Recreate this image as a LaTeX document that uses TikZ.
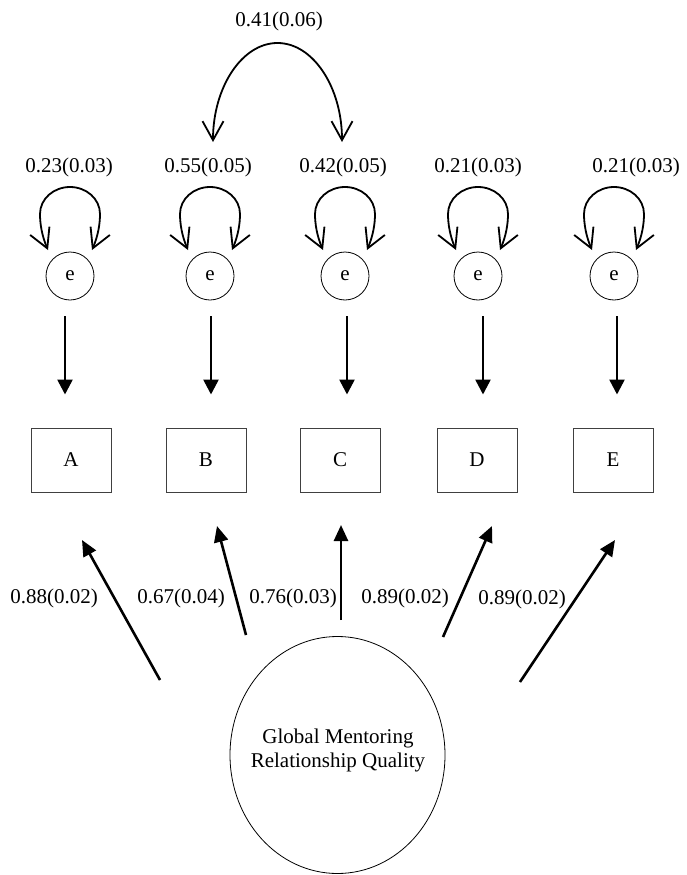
\documentclass[tikz,border=0pt]{standalone}
\usepackage{fontspec}
\setmainfont{Liberation Serif}
\usetikzlibrary{arrows.meta,shapes.geometric}

\begin{document}
\begin{tikzpicture}[x=1pt,y=-1pt,
  every node/.style={font=\fontsize{21}{24}\selectfont},
  obs/.style={draw=black!75,line width=1pt,minimum width=80pt,minimum height=64pt,inner sep=0pt},
  err/.style={draw,circle,line width=0.8pt,minimum size=48pt,inner sep=0pt},
  latent/.style={draw,ellipse,line width=0.8pt,minimum width=215pt,minimum height=237pt,inner sep=0pt},
  est/.style={inner sep=1pt},
  loadarrow/.style={line width=2.6pt,-{Triangle[length=16pt,width=14pt]}},
  resarrow/.style={line width=2.6pt,-{Triangle[length=15pt,width=15pt]}},
  varloop/.style={line width=1.8pt,{Straight Barb[length=19pt,width=21pt]}-{Straight Barb[length=19pt,width=21pt]}},
]
\useasboundingbox (0,0) rectangle (686,875);

% observed indicators
\node[obs] (A) at (71,460) {A};
\node[obs] (B) at (206,460) {B};
\node[obs] (C) at (340,460) {C};
\node[obs] (D) at (477,460) {D};
\node[obs] (E) at (613,460) {E};

% residual terms
\node[err] (eA) at (70,276) {e};
\node[err] (eB) at (210,276) {e};
\node[err] (eC) at (345,276) {e};
\node[err] (eD) at (478,276) {e};
\node[err] (eE) at (614,276) {e};

% latent factor
\node[latent] (G) at (337.5,755) {};
\node[align=center] (Gtext) at (338,750) {Global Mentoring\\Relationship Quality};

% residual variances
\foreach \e in {eA,eB,eC,eD,eE}{
  \draw[varloop,shift={(\e.center)}] (-22,-26) .. controls (-28,-40) and (-30,-52) .. (-30,-62)
    .. controls (-30,-77) and (-16.5,-89) .. (0,-89)
    .. controls (16.5,-89) and (30,-77) .. (30,-62)
    .. controls (30,-52) and (28,-40) .. (22,-26);
}
\node[est] (vA) at (69,167) {0.23(0.03)};
\node[est] (vB) at (208,167) {0.55(0.05)};
\node[est] (vC) at (343,167) {0.42(0.05)};
\node[est] (vD) at (478,167) {0.21(0.03)};
\node[est] (vE) at (636,167) {0.21(0.03)};

% residual covariance between B and C
\coordinate (covB) at (213,142);
\coordinate (covC) at (342,142);
\draw[varloop] (covB) .. controls (213,87.4) and (241.9,43) .. (277.5,43)
  .. controls (313.1,43) and (342,87.4) .. (covC);
\node[est] (cov) at (279,21) {0.41(0.06)};

% residuals onto indicators
\draw[resarrow] ([xshift=-5pt,yshift=-16pt]eA.south) -- ([xshift=-6pt,yshift=33pt]A.north);
\draw[resarrow] ([xshift=1pt,yshift=-16pt]eB.south) -- ([xshift=5pt,yshift=33pt]B.north);
\draw[resarrow] ([xshift=2pt,yshift=-16pt]eC.south) -- ([xshift=7pt,yshift=33pt]C.north);
\draw[resarrow] ([xshift=5pt,yshift=-16pt]eD.south) -- ([xshift=6pt,yshift=33pt]D.north);
\draw[resarrow] ([xshift=3pt,yshift=-16pt]eE.south) -- ([xshift=4pt,yshift=33pt]E.north);

% factor loadings
\coordinate (gA) at (160,680);  \coordinate (tA) at (82,540);
\coordinate (gB) at (246,635);  \coordinate (tB) at (217,526);
\coordinate (gC) at (341,620);  \coordinate (tC) at (341,525);
\coordinate (gD) at (443,637);  \coordinate (tD) at (492,526);
\coordinate (gE) at (520,682);  \coordinate (tE) at (615,540);
\draw[loadarrow] (gA) -- (tA);
\draw[loadarrow] (gB) -- (tB);
\draw[loadarrow] (gC) -- (tC);
\draw[loadarrow] (gD) -- (tD);
\draw[loadarrow] (gE) -- (tE);

\node[est] (lA) at (54,598) {0.88(0.02)};
\node[est] (lB) at (181,598) {0.67(0.04)};
\node[est] (lC) at (293,598) {0.76(0.03)};
\node[est] (lD) at (405,598) {0.89(0.02)};
\node[est] (lE) at (522,599) {0.89(0.02)};
\end{tikzpicture}
\end{document}
